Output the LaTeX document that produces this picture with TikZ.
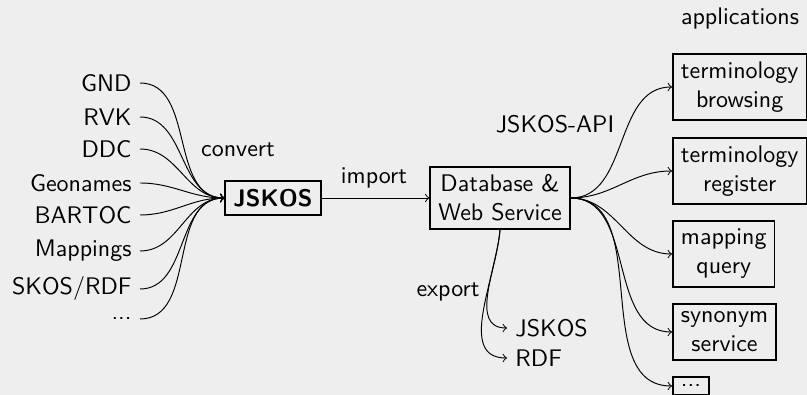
\documentclass[tikz,border=0pt]{standalone}
\usepackage{fontspec}
\usepackage{tikz}
\renewcommand{\familydefault}{\sfdefault}
\definecolor{bgcolor}{RGB}{238,238,238}

\begin{document}
\begin{tikzpicture}[x=0.4167pt, y=0.4167pt,
  box/.style={draw, thick, align=center},
  app/.style={box, anchor=west},
  src/.style={anchor=east},
  flow/.style={->, out=0, in=180}]
\useasboundingbox (0,0) rectangle (807,395);
\fill[bgcolor] (0,0) rectangle (807,395);

% Sources
\node[src] (gnd) at (140,312) {GND};
\node[src] (rvk) at (140,278) {RVK};
\node[src] (ddc) at (140,246) {DDC};
\node[src] (geo) at (140,212) {Geonames};
\node[src] (bartoc) at (140,180) {BARTOC};
\node[src] (maps) at (140,144) {Mappings};
\node[src] (skos) at (140,106) {SKOS/RDF};
\node[src] (more) at (140,76) {...};

% Conversion to JSKOS
\node[box] (jskos) at (273,197) {\textbf{JSKOS}};
\node (convert) at (238,245) {convert};
\foreach \s in {gnd,rvk,ddc,geo,bartoc,maps,skos,more}
  \draw[flow] (\s.east) to (jskos.west);

% Import into database
\node[box] (db) at (500,197) {Database \&\\Web Service};
\node (import) at (374,217) {import};
\draw[->] (jskos) -- (db);

% Export
\node (export) at (448,103) {export};
\node[anchor=west] (outjskos) at (507,67) {JSKOS};
\node[anchor=west] (outrdf) at (507,37) {RDF};
\draw[->] (db.south) to[out=-95, in=180] (outjskos.west);
\draw[->] (db.south) to[out=-95, in=180] (outrdf.west);

% Applications
\node (api) at (555,271) {JSKOS-API};
\node (apps) at (740,376) {applications};
\node[app] (browse) at (672,308) {terminology\\browsing};
\node[app] (register) at (672,224) {terminology\\register};
\node[app] (query) at (672,141) {mapping\\query};
\node[app] (synonym) at (672,63) {synonym\\service};
\node[app] (other) at (672,9) {...};
\foreach \a in {browse,register,query,synonym,other}
  \draw[flow] (db.east) to (\a.west);
\end{tikzpicture}
\end{document}
